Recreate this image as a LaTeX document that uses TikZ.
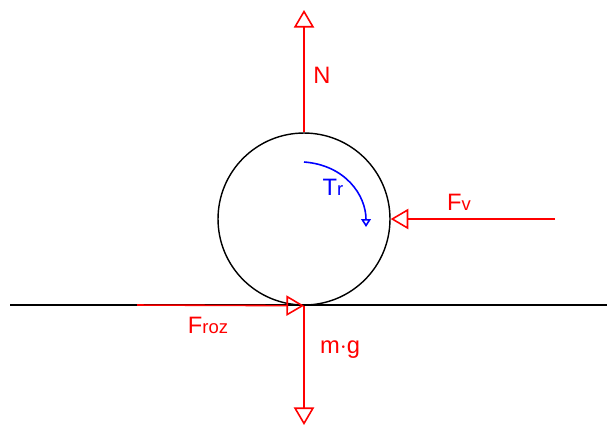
\documentclass[tikz,border=0pt]{standalone}
\usepackage{fontspec}
\setmainfont{Liberation Sans}
\usetikzlibrary{arrows.meta}

\newcommand{\lowtxt}[1]{{\fontsize{10.5}{12}\selectfont #1}}

\begin{document}
\begin{tikzpicture}[x=0.02cm,y=-0.02cm,
    force/.style={draw=red,line width=0.9pt,-{Triangle[open,length=10pt,width=11.5pt]}},
    torque/.style={draw=blue,line width=0.9pt,-{Triangle[open,length=4.5pt,width=5.5pt]}},
    lbl/.style={inner sep=0pt,font=\fontsize{13.5}{15}\selectfont}]
  \useasboundingbox (0,0) rectangle (607,427);
  % ground and wheel
  \draw[line width=0.8pt] (10,305) -- (607,305);
  \node[draw,line width=0.8pt,circle,minimum size=3.44cm,inner sep=0pt] (wheel) at (304,219) {};
  \coordinate (ntip) at (304,10);
  \coordinate (mgtip) at (304,425);
  \coordinate (fvend) at (555,219);
  \coordinate (frozend) at (137,305);
  % forces
  \draw[force] (wheel.north) -- (ntip);
  \draw[force] (wheel.south) -- (mgtip);
  \draw[force] (fvend) -- (wheel.east);
  \draw[force] (frozend) -- (wheel.south);
  \draw[torque] (304,162) .. controls (345,165) and (366,195) .. (366,227);
  % labels
  \node[lbl,text=red] (labn) at (322,75) {N};
  \node[lbl,text=red] (labfv) at (459,202) {F\lowtxt{v}};
  \node[lbl,text=red] (labfroz) at (208,325) {F\lowtxt{roz}};
  \node[lbl,text=red] (labmg) at (340,350) {m$\cdot$g};
  \node[lbl,text=blue] (labtr) at (333,187) {T\lowtxt{r}};
\end{tikzpicture}
\end{document}
